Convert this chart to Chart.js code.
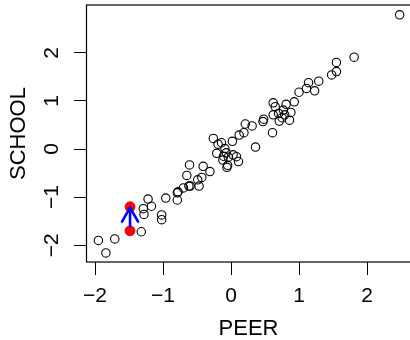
<!DOCTYPE html>
<html>
<head>
<meta charset="utf-8">
<script src="https://cdn.jsdelivr.net/npm/chart.js@4/dist/chart.umd.min.js"></script>
<style>
  body { margin: 0; background: #fff; }
</style>
</head>
<body>
<canvas id="chart" width="410" height="340"></canvas>
<script>
// schools: PEER vs SCHOOL
const peer = [
  -1.95, -1.84, -1.71, -1.32, -1.29, -1.28, -1.22, -1.17, -1.02, -1.02,
  -0.96, -0.79, -0.79, -0.70, -0.62, -0.47, -0.49, -0.43, -0.65, -0.61,
  -0.41, -0.31, -0.78, -0.60,
  -0.26, -0.19, -0.14, 0.02, -0.21, -0.09, -0.11, -0.07, -0.04, 0.03,
  0.08, 0.11, -0.05, -0.06, -0.12, 0.12, 0.19, 0.36,
  0.21, 0.31, 0.47, 0.48, 0.61, 0.62, 0.65, 0.81, 0.93, 0.88,
  0.77, 0.70, 0.62, 0.79, 0.75, 0.86, 0.71, 1.00, 1.11, 1.14,
  1.23, 1.29, 1.48, 1.55, 1.55, 1.81, 2.48
];
const school = [
  -1.90, -2.16, -1.87, -1.72, -1.24, -1.36, -1.04, -1.19, -1.37, -1.47,
  -1.02, -0.91, -1.06, -0.81, -0.77, -0.77, -0.64, -0.59, -0.55, -0.33,
  -0.36, -0.47, -0.89, -0.77,
  0.22, 0.10, 0.13, 0.16, -0.09, 0.01, -0.15, -0.08, -0.17, -0.12,
  -0.16, -0.26, -0.34, -0.38, -0.23, 0.29, 0.34, 0.04,
  0.52, 0.48, 0.57, 0.62, 0.34, 0.96, 0.88, 0.93, 0.98, 0.76,
  0.81, 0.74, 0.71, 0.71, 0.65, 0.60, 0.58, 1.18, 1.26, 1.38,
  1.21, 1.41, 1.54, 1.61, 1.80, 1.91, 2.79
];

// highlighted school, before and after
const markPeer = [-1.485, -1.485];
const markSchool = [-1.70, -1.20];
// arrow from / to (SCHOOL values)
const arrowFrom = -1.60;
const arrowTo = -1.22;

const xTicks = [-2, -1, 0, 1, 2];
const yTicks = [-2, -1, 0, 1, 2];

const family = "'Liberation Sans', Arial, sans-serif";
const tickFont = { family, size: 21 };
const titleFont = { family, size: 22, lineHeight: 1 };
const minus = v => String(v).replace('-', '\u2212');

const noPad = (s) => {
  s.paddingTop = 0; s.paddingBottom = 0; s.paddingLeft = 0; s.paddingRight = 0;
};

const boxPlugin = {
  id: 'box',
  afterDatasetsDraw: (chart) => {
    const {ctx, chartArea, scales} = chart;
    ctx.save();
    // arrow
    const x = scales.x.getPixelForValue(markPeer[0]);
    const y0 = scales.y.getPixelForValue(arrowFrom);
    const y1 = scales.y.getPixelForValue(arrowTo);
    const len = 16, ang = Math.PI / 6;
    ctx.strokeStyle = '#0000ff';
    ctx.lineWidth = 2.6;
    ctx.lineCap = 'round';
    ctx.beginPath();
    ctx.moveTo(x, y0);
    ctx.lineTo(x, y1);
    ctx.moveTo(x - len * Math.sin(ang), y1 + len * Math.cos(ang));
    ctx.lineTo(x, y1);
    ctx.lineTo(x + len * Math.sin(ang), y1 + len * Math.cos(ang));
    ctx.stroke();
    // frame
    ctx.strokeStyle = '#000';
    ctx.lineWidth = 1.2;
    ctx.strokeRect(chartArea.left - 0.5, chartArea.top, chartArea.right - chartArea.left + 2, chartArea.bottom - chartArea.top);
    ctx.restore();
  }
};

new Chart(document.getElementById('chart'), {
  type: 'scatter',
  data: {
    datasets: [
      {
        data: peer.map((p, i) => ({ x: p, y: school[i] })),
        pointStyle: 'circle',
        pointRadius: 4.2,
        pointBorderWidth: 1.1,
        borderColor: '#000',
        backgroundColor: 'rgba(0,0,0,0)'
      },
      {
        data: markPeer.map((p, i) => ({ x: p, y: markSchool[i] })),
        pointRadius: 5.4,
        pointBorderWidth: 0,
        borderColor: '#ff0000',
        backgroundColor: '#ff0000'
      }
    ]
  },
  options: {
    responsive: false,
    animation: false,
    layout: { autoPadding: false, padding: { top: 5, right: 0, left: 0, bottom: 0 } },
    plugins: {
      legend: { display: false },
      tooltip: { enabled: false }
    },
    scales: {
      x: {
        type: 'linear',
        min: -2.118,
        max: 2.632,
        afterFit: (s) => { s.height = 78; noPad(s); },
        afterBuildTicks: (s) => { s.ticks = xTicks.map(v => ({ value: v })); },
        grid: { drawOnChartArea: false, drawTicks: true, tickLength: 13, color: '#000', lineWidth: 1 },
        border: { display: false },
        ticks: { font: tickFont, color: '#000', padding: 9, maxRotation: 0, callback: minus },
        title: { display: true, text: 'PEER', font: titleFont, color: '#000', padding: 0 }
      },
      y: {
        type: 'linear',
        min: -2.349,
        max: 2.994,
        afterFit: (s) => { s.width = 87; noPad(s); },
        afterBuildTicks: (s) => { s.ticks = yTicks.map(v => ({ value: v })); },
        grid: { drawOnChartArea: false, drawTicks: true, tickLength: 13, color: '#000', lineWidth: 1 },
        border: { display: false },
        ticks: { font: tickFont, color: '#000', padding: 10, minRotation: 90, maxRotation: 90, crossAlign: 'center', callback: minus },
        title: { display: true, text: 'SCHOOL', font: titleFont, color: '#000', padding: 8 }
      }
    }
  },
  plugins: [boxPlugin]
});
</script>
</body>
</html>
